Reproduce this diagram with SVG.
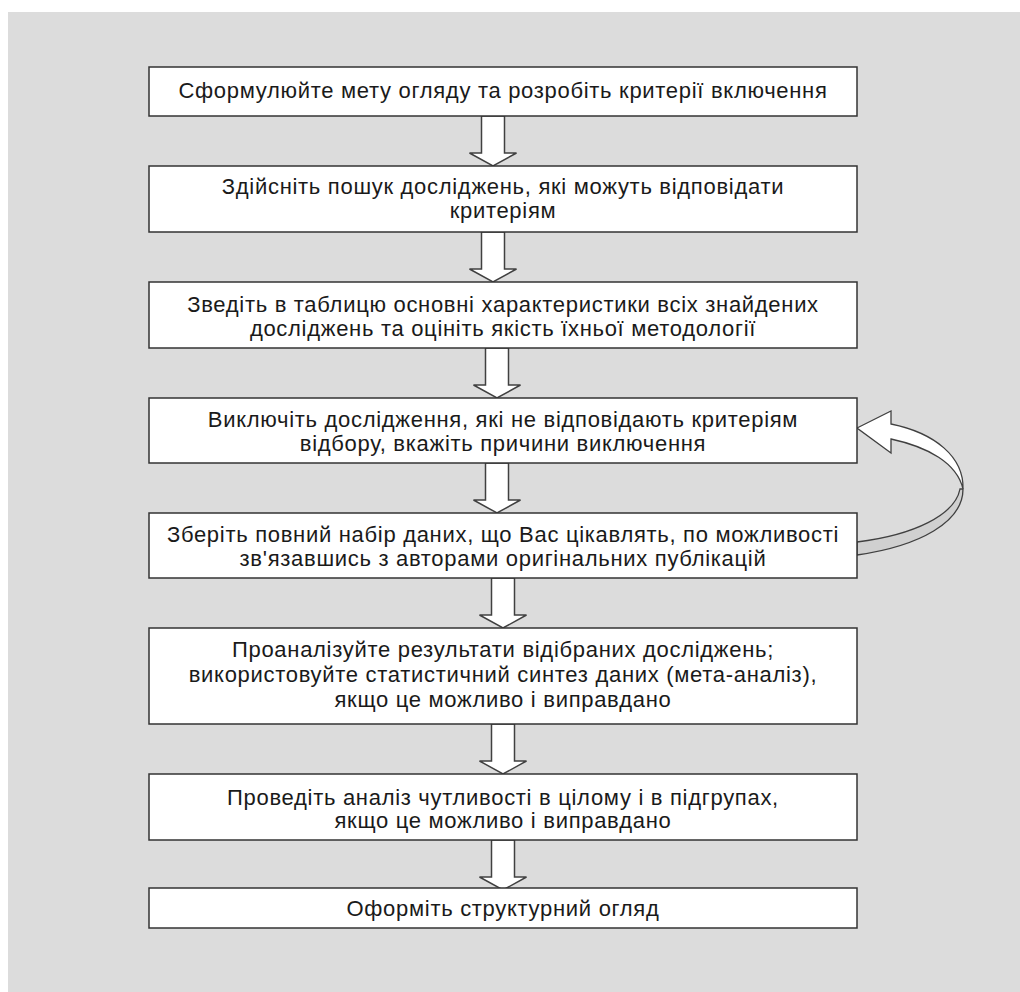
<svg xmlns="http://www.w3.org/2000/svg" width="1020" height="992" viewBox="0 0 1020 992">
<style>
.box{fill:#ffffff;stroke:#333333;stroke-width:1.5}
.t{font-family:"Liberation Sans",Arial,sans-serif;font-size:22px;letter-spacing:0.7px;fill:#1a1a1a;text-anchor:middle}
.arr{fill:#ffffff;stroke:#404040;stroke-width:1.5;stroke-linejoin:miter}
</style>
<defs>
<path id="dn" d="M-11.5,0 L11.5,0 L11.5,37 L23.5,37 L0,50 L-23.5,37 L-11.5,37 Z"/>
</defs>
<rect x="0" y="0" width="1020" height="992" fill="#ffffff"/>
<rect x="8" y="12" width="1012" height="980" fill="#dcdcdc"/>
<g id="connectors">
<use href="#dn" class="arr" x="493" y="116"/>
<use href="#dn" class="arr" x="493" y="232"/>
<use href="#dn" class="arr" x="497" y="348"/>
<use href="#dn" class="arr" x="497" y="463"/>
<use href="#dn" class="arr" x="503" y="578"/>
<use href="#dn" class="arr" x="503" y="724"/>
<use href="#dn" class="arr" x="503" y="840"/>
<g id="loop">
<path d="M963,489 C963,522 920,546 857,555 L857,542 C914,535 955,515 960,489 Z" fill="#d0d0d0" stroke="#404040" stroke-width="1.3"/>
<path d="M891,424 C935,433 964,457 963,489 C957,463 928,447 891,439 L891,453 L857,428 L891,411 Z" fill="#ffffff" stroke="#404040" stroke-width="1.3" stroke-linejoin="miter"/>
</g>
</g>
<g id="n1"><rect class="box" x="149" y="67" width="708" height="49"/>
<text class="t" x="503" y="98">Сформулюйте мету огляду та розробіть критерії включення</text></g>
<g id="n2"><rect class="box" x="149" y="166" width="708" height="66"/>
<text class="t" x="503" y="194">Здійсніть пошук досліджень, які можуть відповідати</text>
<text class="t" x="503" y="218">критеріям</text></g>
<g id="n3"><rect class="box" x="149" y="282" width="708" height="66"/>
<text class="t" x="503" y="312">Зведіть в таблицю основні характеристики всіх знайдених</text>
<text class="t" x="503" y="336">досліджень та оцініть якість їхньої методології</text></g>
<g id="n4"><rect class="box" x="149" y="398" width="708" height="65"/>
<text class="t" x="503" y="427">Виключіть дослідження, які не відповідають критеріям</text>
<text class="t" x="503" y="451">відбору, вкажіть причини виключення</text></g>
<g id="n5"><rect class="box" x="149" y="513" width="708" height="65"/>
<text class="t" x="503" y="542">Зберіть повний набір даних, що Вас цікавлять, по можливості</text>
<text class="t" x="503" y="566">зв'язавшись з авторами оригінальних публікацій</text></g>
<g id="n6"><rect class="box" x="149" y="628" width="708" height="96"/>
<text class="t" x="503" y="657">Проаналізуйте результати відібраних досліджень;</text>
<text class="t" x="503" y="682">використовуйте статистичний синтез даних (мета-аналіз),</text>
<text class="t" x="503" y="707">якщо це можливо і виправдано</text></g>
<g id="n7"><rect class="box" x="149" y="774" width="708" height="66"/>
<text class="t" x="503" y="805">Проведіть аналіз чутливості в цілому і в підгрупах,</text>
<text class="t" x="503" y="828">якщо це можливо і виправдано</text></g>
<g id="n8"><rect class="box" x="149" y="888" width="708" height="40"/>
<text class="t" x="503" y="916">Оформіть структурний огляд</text></g>
</svg>
